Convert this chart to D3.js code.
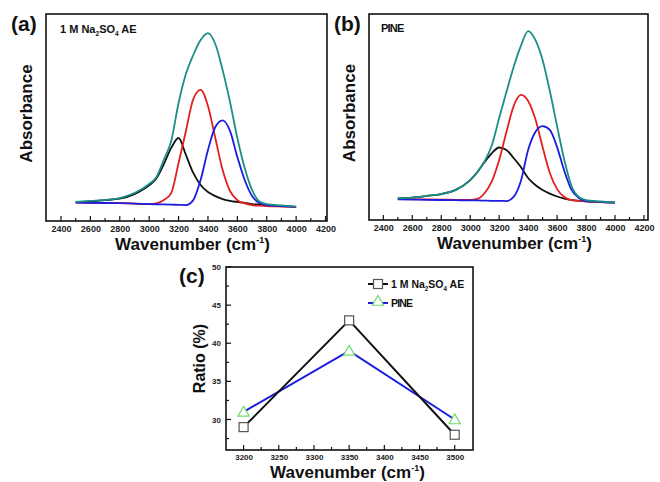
<!DOCTYPE html>
<html><head><meta charset="utf-8">
<script src="https://cdn.jsdelivr.net/npm/d3@7"></script>
<style>
body{margin:0;background:#fff;}
svg{font-family:"Liberation Sans",Arial,sans-serif;}
</style></head>
<body>
<svg id="chart" width="660" height="482"></svg>
<script>
// ---------- DATA ----------
// Panel (a): 1 M Na2SO4 AE — wavenumber (cm-1) vs absorbance (a.u., 0 = bottom of frame, 1 = top)
const wnA = [2500,2600,2700,2800,2900,3000,3050,3100,3150,3200,3250,3300,3350,3400,3450,3500,3550,3600,3650,3700,3750,3800,3900,4000];
const aTeal  = [0.092,0.097,0.101,0.111,0.135,0.179,0.213,0.296,0.386,0.570,0.710,0.802,0.874,0.908,0.855,0.729,0.575,0.401,0.256,0.150,0.094,0.082,0.075,0.069];
const aBlack = [0.092,0.095,0.101,0.108,0.130,0.172,0.206,0.275,0.353,0.401,0.319,0.232,0.174,0.140,0.120,0.106,0.097,0.092,0.088,0.082,0.080,0.077,0.072,0.068];
const aRed   = [0.089,0.088,0.087,0.086,0.084,0.082,0.085,0.101,0.135,0.280,0.435,0.589,0.633,0.556,0.401,0.246,0.145,0.101,0.085,0.077,0.074,0.072,0.070,0.068];
const aBlue  = [0.089,0.088,0.087,0.086,0.084,0.082,0.081,0.080,0.079,0.078,0.077,0.101,0.198,0.343,0.454,0.486,0.435,0.309,0.198,0.121,0.087,0.077,0.072,0.068];

// Panel (b): PINE
const wnB = [2500,2600,2700,2800,2900,3000,3050,3100,3150,3200,3250,3300,3350,3400,3450,3500,3550,3600,3650,3700,3750,3800,3900,4000];
const bTeal  = [0.105,0.109,0.117,0.126,0.146,0.194,0.233,0.286,0.364,0.495,0.621,0.743,0.845,0.917,0.874,0.777,0.626,0.456,0.291,0.165,0.112,0.097,0.090,0.084];
const bBlack = [0.105,0.109,0.117,0.126,0.146,0.194,0.233,0.282,0.325,0.352,0.340,0.301,0.257,0.204,0.170,0.146,0.128,0.114,0.104,0.097,0.093,0.090,0.087,0.084];
const bRed   = [0.102,0.101,0.100,0.099,0.098,0.097,0.102,0.131,0.189,0.291,0.427,0.553,0.607,0.578,0.490,0.354,0.228,0.150,0.112,0.097,0.093,0.090,0.087,0.084];
const bBlue  = [0.100,0.099,0.098,0.097,0.096,0.095,0.095,0.094,0.093,0.093,0.092,0.112,0.189,0.340,0.427,0.456,0.437,0.354,0.238,0.146,0.107,0.092,0.088,0.084];

// Panel (c): ratio (%) of each component
const wnC = [3200,3350,3500];
const ratioAE   = [29,43,28];
const ratioPINE = [31,39,30];
const seriesNames = ["1 M Na2SO4 AE","PINE"];

const ticksAB = [2400,2600,2800,3000,3200,3400,3600,3800,4000,4200];
const ticksCX = [3200,3250,3300,3350,3400,3450,3500];
const ticksCY = [30,35,40,45,50];

// ---------- STYLE ----------
const C = {teal:"#1b8f86", red:"#e41f1f", blue:"#1c1ce0", black:"#111"};
const svg = d3.select("#chart");

function naSO4(sel, size){
  sel.append("tspan").text("1 M Na");
  sel.append("tspan").text("2").attr("font-size",size*0.6).attr("dy",size*0.28);
  sel.append("tspan").text("SO").attr("dy",-size*0.28);
  sel.append("tspan").text("4").attr("font-size",size*0.6).attr("dy",size*0.28);
  sel.append("tspan").text(" AE").attr("dy",-size*0.28);
}
function wavLabel(g, x, y){
  const t = g.append("text").attr("x",x).attr("y",y).attr("text-anchor","middle")
    .attr("font-size",17).attr("font-weight","bold").attr("fill","#111");
  t.append("tspan").text("Wavenumber (cm");
  t.append("tspan").text("-1").attr("font-size",9).attr("dy",-7);
  t.append("tspan").text(")").attr("dy",7);
}

function spectrum(box, xDomain, wn, series, panelLabel, note){
  const g = svg.append("g");
  const x = d3.scaleLinear().domain(xDomain).range([box.l, box.r]);
  const y = d3.scaleLinear().domain([0,1]).range([box.b, box.t]);
  const ax = g.append("g").attr("transform",`translate(0,${box.b})`)
    .call(d3.axisBottom(x).tickValues(ticksAB).tickFormat(d3.format("d")).tickSize(0).tickPadding(5));
  ax.select(".domain").remove();
  ax.selectAll("text").attr("font-size",9).attr("font-weight","bold").attr("fill","#222")
    .attr("font-family","Liberation Sans, Arial, sans-serif");
  const minor = d3.range(2400,4201,100);
  g.selectAll(".tk").data(minor).join("line")
    .attr("x1",d=>x(d)).attr("x2",d=>x(d))
    .attr("y1",box.b).attr("y2",d=>box.b-(d%200===0?5:3))
    .attr("stroke","#111").attr("stroke-width",1.2);
  const line = d3.line().x((d,i)=>x(wn[i])).y(d=>y(d)).curve(d3.curveMonotoneX);
  series.forEach(s=>{
    g.append("path").attr("d",line(s.v)).attr("fill","none")
      .attr("stroke",s.c).attr("stroke-width",1.8);
  });
  g.append("rect").attr("x",box.l).attr("y",box.t).attr("width",box.r-box.l).attr("height",box.b-box.t)
    .attr("fill","none").attr("stroke","#111").attr("stroke-width",1.6);
  g.append("text").attr("x",box.l-35).attr("y",box.t+17).attr("font-size",21).attr("font-weight","bold")
    .attr("fill","#111").text(panelLabel);
  g.append("text").attr("transform",`translate(${box.l-14},${(box.t+box.b)/2-4}) rotate(-90)`)
    .attr("text-anchor","middle").attr("font-size",17).attr("font-weight","bold").attr("fill","#111").text("Absorbance");
  wavLabel(g,(box.l+box.r)/2+6,box.b+29);
  note(g, box);
}

spectrum({l:46,t:14,r:327,b:221},[2298,4210],wnA,
  [{v:aBlack,c:C.black},{v:aRed,c:C.red},{v:aBlue,c:C.blue},{v:aTeal,c:C.teal}],"(a)",
  (g,box)=>{ const t=g.append("text").attr("x",box.l+14).attr("y",box.t+19).attr("font-size",11)
      .attr("font-weight","bold").attr("fill","#111"); naSO4(t,11); });

spectrum({l:369,t:14,r:648,b:220},[2301,4228],wnB,
  [{v:bBlack,c:C.black},{v:bRed,c:C.red},{v:bBlue,c:C.blue},{v:bTeal,c:C.teal}],"(b)",
  (g,box)=>{ g.append("text").attr("x",box.l+12).attr("y",box.t+18).attr("font-size",11)
      .attr("font-weight","bold").attr("letter-spacing",-0.8).attr("fill","#111").text("PINE"); });

// ---------- Panel (c) ----------
(function(){
  const box = {l:226,t:267,r:473,b:450};
  const g = svg.append("g");
  const x = d3.scaleLinear().domain([3175,3526]).range([box.l,box.r]);
  const y = d3.scaleLinear().domain([26,50]).range([box.b,box.t]);
  const xa = g.append("g").attr("transform",`translate(0,${box.b})`)
    .call(d3.axisBottom(x).tickValues(ticksCX).tickFormat(d3.format("d")).tickSize(0).tickPadding(4));
  const ya = g.append("g").attr("transform",`translate(${box.l},0)`)
    .call(d3.axisLeft(y).tickValues(ticksCY).tickFormat(d3.format("d")).tickSize(0).tickPadding(5));
  [xa,ya].forEach(a=>{a.select(".domain").remove();
    a.selectAll("text").attr("font-size",8).attr("font-weight","bold").attr("fill","#222")
     .attr("font-family","Liberation Sans, Arial, sans-serif");});
  g.selectAll(".tx").data(d3.range(3200,3501,25)).join("line")
    .attr("x1",d=>x(d)).attr("x2",d=>x(d)).attr("y1",box.b).attr("y2",d=>box.b-(d%50===0?5:3))
    .attr("stroke","#111").attr("stroke-width",1.2);
  g.selectAll(".ty").data(d3.range(27.5,50.1,2.5)).join("line")
    .attr("y1",d=>y(d)).attr("y2",d=>y(d)).attr("x1",box.l).attr("x2",d=>box.l+(d%5===0?5:3))
    .attr("stroke","#111").attr("stroke-width",1.2);
  const line = d3.line().x((d,i)=>x(wnC[i])).y(d=>y(d));
  g.append("path").attr("d",line(ratioPINE)).attr("fill","none").attr("stroke",C.blue).attr("stroke-width",2);
  g.append("path").attr("d",line(ratioAE)).attr("fill","none").attr("stroke",C.black).attr("stroke-width",2);
  const tri = d3.symbol().type(d3.symbolTriangle).size(55);
  g.selectAll(".tri").data(ratioPINE).join("path")
    .attr("transform",(d,i)=>`translate(${x(wnC[i])},${y(d)+1})`).attr("d",tri)
    .attr("fill","#fff").attr("stroke","#6ddb6d").attr("stroke-width",1.2);
  g.selectAll(".sq").data(ratioAE).join("rect")
    .attr("x",(d,i)=>x(wnC[i])-4.5).attr("y",d=>y(d)-4.5).attr("width",9).attr("height",9)
    .attr("fill","#fff").attr("stroke","#555").attr("stroke-width",1.2);
  g.append("rect").attr("x",box.l).attr("y",box.t).attr("width",box.r-box.l).attr("height",box.b-box.t)
    .attr("fill","none").attr("stroke","#111").attr("stroke-width",1.6);
  // legend
  const lx=368, ly=[284,303];
  g.append("line").attr("x1",lx).attr("x2",lx+20).attr("y1",ly[0]).attr("y2",ly[0]).attr("stroke",C.black).attr("stroke-width",2);
  g.append("rect").attr("x",lx+5.5).attr("y",ly[0]-4.5).attr("width",9).attr("height",9).attr("fill","#fff").attr("stroke","#555").attr("stroke-width",1.2);
  g.append("line").attr("x1",lx).attr("x2",lx+20).attr("y1",ly[1]).attr("y2",ly[1]).attr("stroke",C.blue).attr("stroke-width",2);
  g.append("path").attr("transform",`translate(${lx+10},${ly[1]-1})`).attr("d",tri).attr("fill","#fff").attr("stroke","#6ddb6d").attr("stroke-width",1.2);
  const t1 = g.append("text").attr("x",lx+23).attr("y",ly[0]+4).attr("font-size",10.5).attr("font-weight","bold").attr("fill","#111");
  naSO4(t1,10.5);
  g.append("text").attr("x",lx+23).attr("y",ly[1]+4).attr("font-size",10.5).attr("font-weight","bold")
    .attr("letter-spacing",-0.8).attr("fill","#111").text(seriesNames[1]);
  g.append("text").attr("x",box.l-47).attr("y",box.t+16).attr("font-size",21).attr("font-weight","bold").attr("fill","#111").text("(c)");
  g.append("text").attr("transform",`translate(205,${(box.t+box.b)/2}) rotate(-90)`)
    .attr("text-anchor","middle").attr("font-size",16).attr("font-weight","bold").attr("fill","#111").text("Ratio (%)");
  wavLabel(g,(box.l+box.r)/2-2,box.b+28);
})();
</script>
</body></html>
